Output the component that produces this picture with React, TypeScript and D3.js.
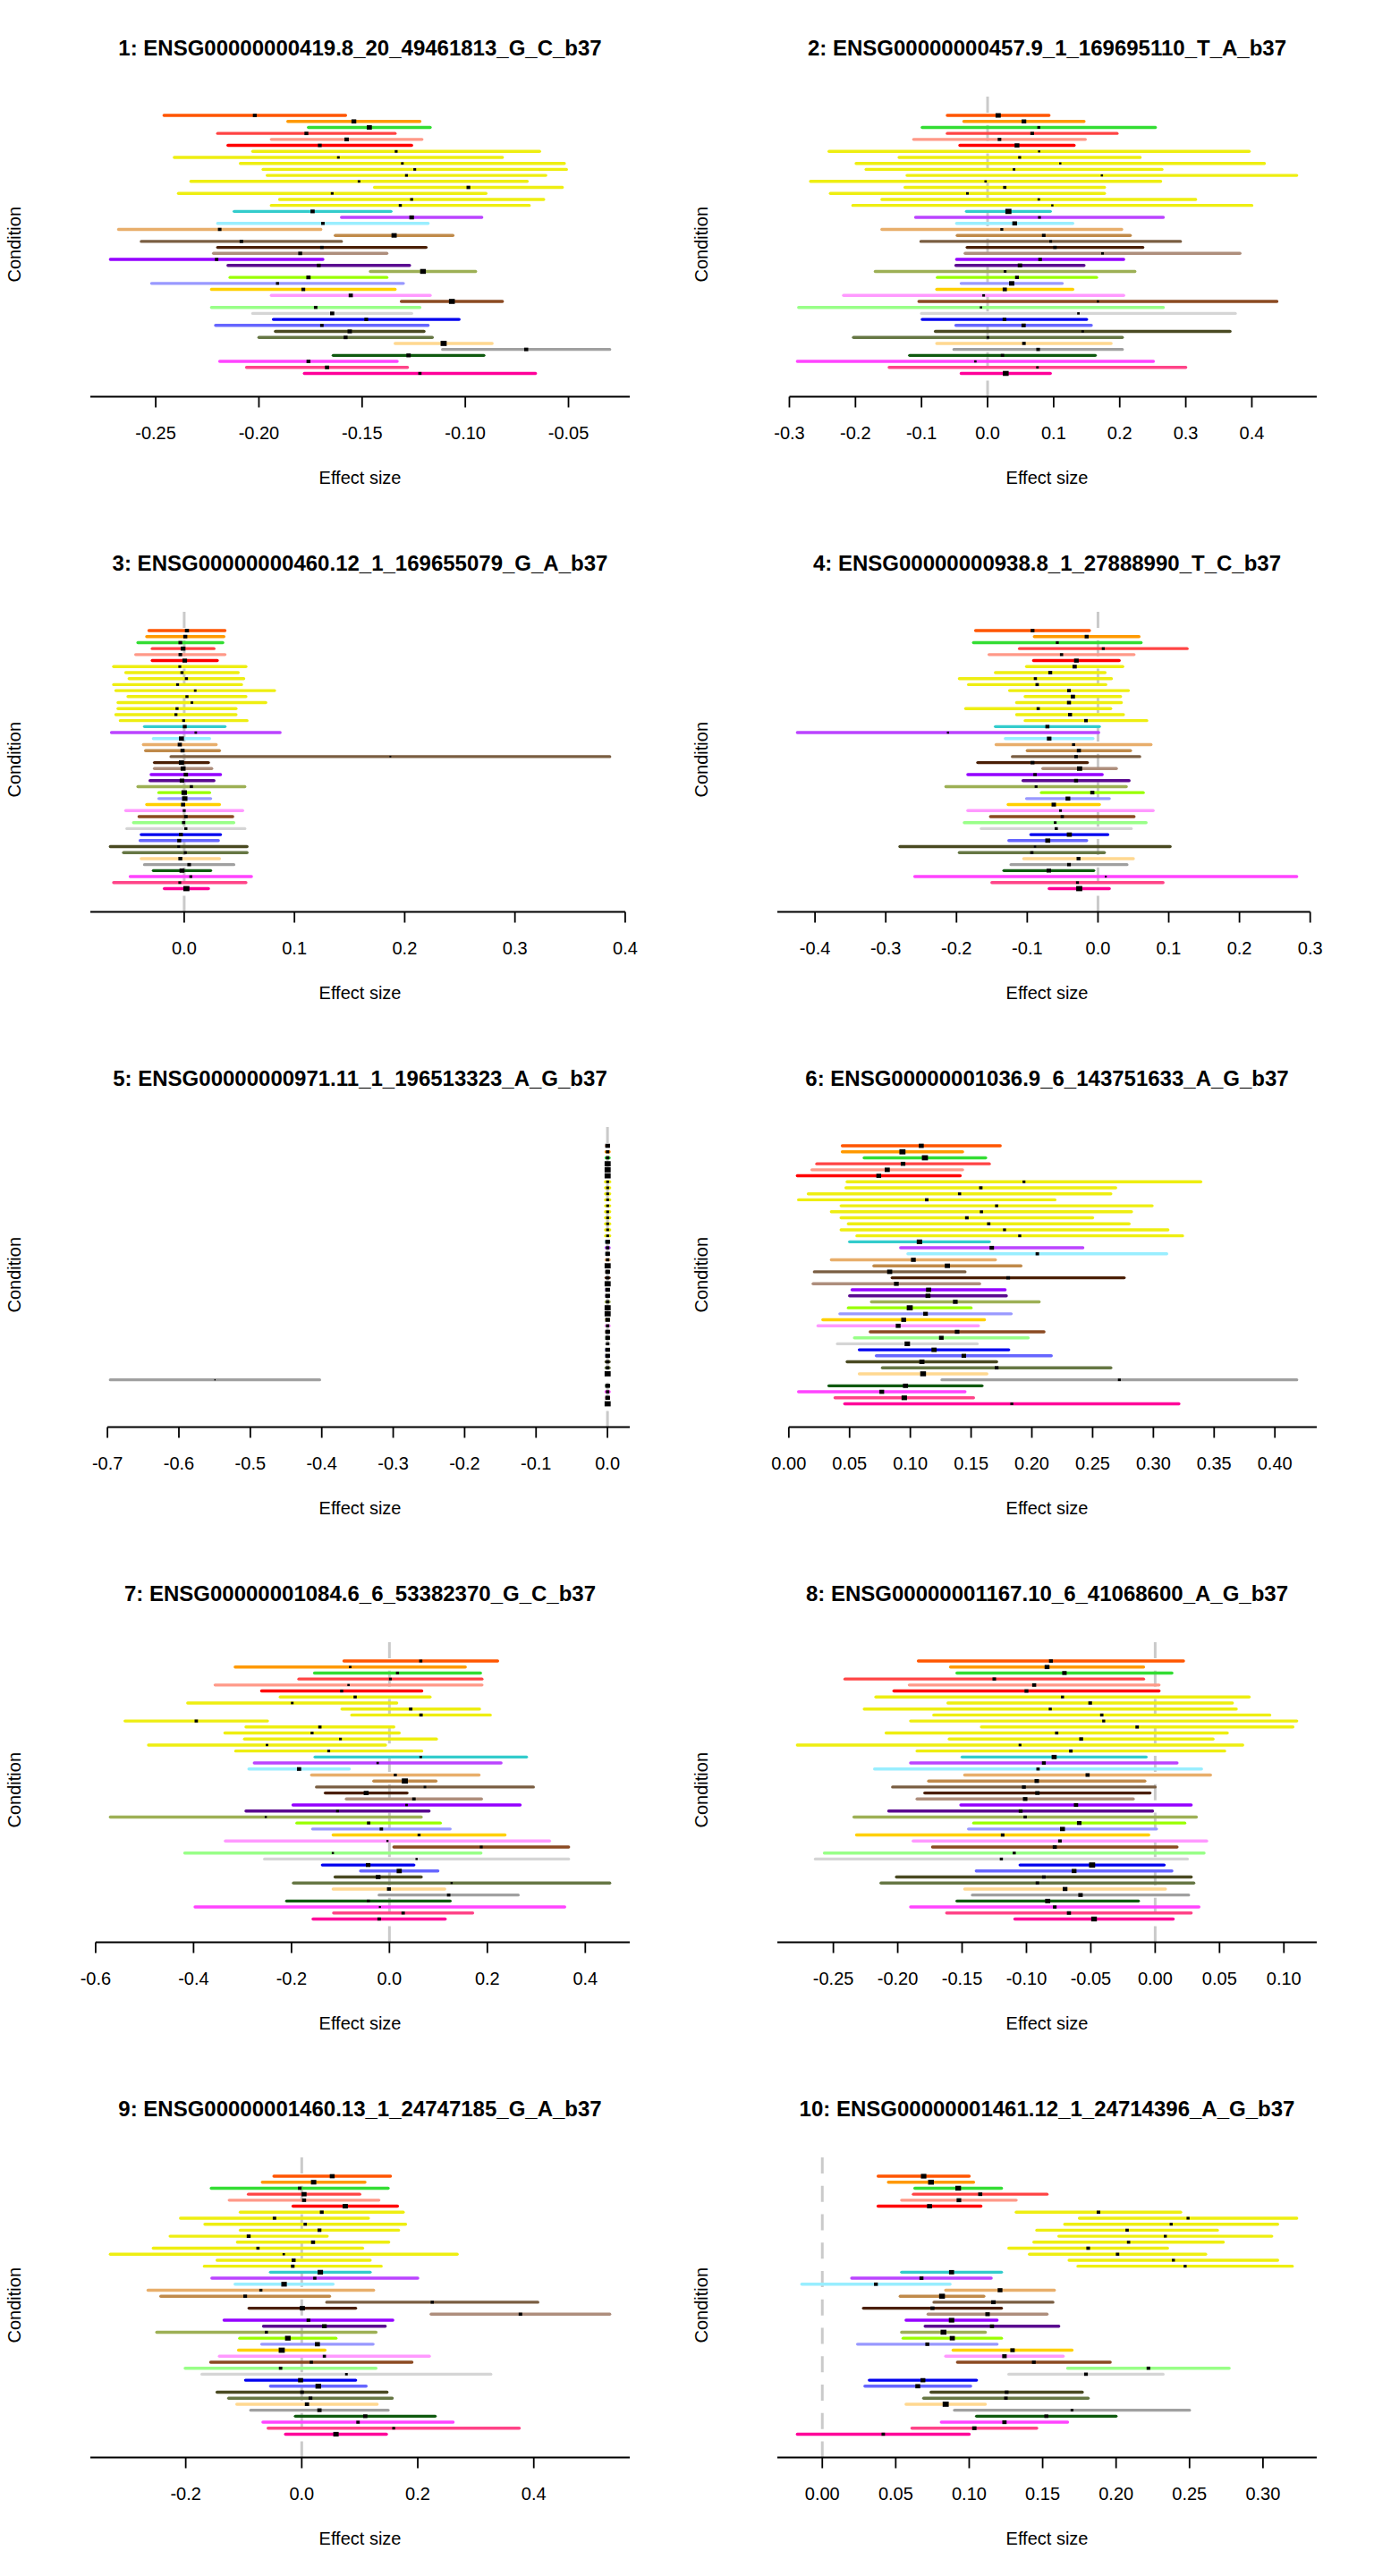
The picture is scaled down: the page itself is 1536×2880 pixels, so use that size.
import * as d3 from "d3";

// 44 GTEx tissues, one row each, in plotting order
const TISSUE_COLORS = [
  "#FF5500", "#FF9900", "#33DD33", "#FF4444", "#FF9988", "#FF0000",
  "#EEEE11", "#EEEE11", "#EEEE11", "#EEEE11", "#EEEE11",
  "#EEEE11", "#EEEE11", "#EEEE11", "#EEEE11", "#EEEE11",
  "#33CCCC", "#BB44FF", "#99EEFF", "#E8AE6B", "#C08A4A", "#7A5E42",
  "#4A1F05", "#AE8E7C", "#9400FF", "#5A0A90", "#9DB055", "#99FF00",
  "#9999FF", "#FFD000", "#FF99FF", "#8B4A22", "#99FF88", "#D5D5D5",
  "#0000EE", "#6666FF", "#4A4A22", "#667744", "#FFD890", "#A0A0A0",
  "#0F5A0F", "#FF44FF", "#FF4488", "#FF0099",
];

const TITLES = [
  "1: ENSG00000000419.8_20_49461813_G_C_b37",
  "2: ENSG00000000457.9_1_169695110_T_A_b37",
  "3: ENSG00000000460.12_1_169655079_G_A_b37",
  "4: ENSG00000000938.8_1_27888990_T_C_b37",
  "5: ENSG00000000971.11_1_196513323_A_G_b37",
  "6: ENSG00000001036.9_6_143751633_A_G_b37",
  "7: ENSG00000001084.6_6_53382370_G_C_b37",
  "8: ENSG00000001167.10_6_41068600_A_G_b37",
  "9: ENSG00000001460.13_1_24747185_G_A_b37",
  "10: ENSG00000001461.12_1_24714396_A_G_b37",
];

const TICK_STEPS = [0.05, 0.1, 0.1, 0.1, 0.1, 0.05, 0.2, 0.05, 0.2, 0.05];

// lower / upper 95% interval per condition
const P1_LO = [-0.246,-0.186,-0.176,-0.220,-0.194,-0.215,-0.203,-0.241,-0.209,-0.198,-0.196,-0.233,-0.144,-0.239,-0.190,-0.194,-0.212,-0.160,-0.220,-0.268,-0.163,-0.257,-0.220,-0.222,-0.272,-0.215,-0.146,-0.214,-0.252,-0.223,-0.194,-0.131,-0.223,-0.203,-0.193,-0.221,-0.192,-0.200,-0.134,-0.111,-0.164,-0.219,-0.206,-0.178];
const P1_HI = [-0.158,-0.122,-0.117,-0.134,-0.121,-0.126,-0.064,-0.082,-0.052,-0.051,-0.061,-0.070,-0.053,-0.090,-0.062,-0.069,-0.136,-0.092,-0.118,-0.170,-0.106,-0.160,-0.119,-0.138,-0.169,-0.127,-0.095,-0.138,-0.130,-0.134,-0.117,-0.082,-0.122,-0.126,-0.103,-0.118,-0.120,-0.116,-0.087,-0.030,-0.091,-0.133,-0.128,-0.066];

const P2_LO = [-0.061,-0.036,-0.099,-0.061,-0.112,-0.042,-0.240,-0.134,-0.199,-0.184,-0.122,-0.268,-0.125,-0.238,-0.160,-0.204,-0.032,-0.109,-0.047,-0.160,-0.046,-0.101,-0.031,-0.034,-0.047,-0.048,-0.170,-0.076,-0.040,-0.077,-0.218,-0.104,-0.286,-0.100,-0.099,-0.048,-0.079,-0.203,-0.077,-0.051,-0.118,-0.288,-0.149,-0.040];
const P2_HI = [0.093,0.146,0.254,0.196,0.148,0.131,0.396,0.231,0.419,0.264,0.468,0.262,0.177,0.177,0.315,0.400,0.095,0.266,0.129,0.203,0.216,0.292,0.235,0.382,0.206,0.146,0.223,0.165,0.113,0.129,0.206,0.438,0.266,0.375,0.150,0.157,0.367,0.204,0.187,0.204,0.163,0.251,0.300,0.095];

const P3_LO = [-0.032,-0.034,-0.042,-0.029,-0.044,-0.029,-0.064,-0.053,-0.050,-0.064,-0.062,-0.051,-0.060,-0.060,-0.062,-0.058,-0.036,-0.066,-0.028,-0.037,-0.035,-0.012,-0.027,-0.027,-0.030,-0.031,-0.042,-0.023,-0.023,-0.034,-0.053,-0.041,-0.046,-0.052,-0.039,-0.040,-0.067,-0.055,-0.039,-0.036,-0.028,-0.049,-0.064,-0.018];
const P3_HI = [0.037,0.036,0.035,0.027,0.037,0.030,0.056,0.049,0.054,0.052,0.082,0.056,0.074,0.047,0.047,0.057,0.037,0.087,0.023,0.029,0.032,0.386,0.022,0.025,0.033,0.027,0.055,0.023,0.024,0.032,0.053,0.044,0.045,0.055,0.033,0.031,0.057,0.057,0.032,0.045,0.024,0.061,0.056,0.022];

const P4_LO = [-0.173,-0.090,-0.176,-0.111,-0.154,-0.091,-0.101,-0.145,-0.196,-0.183,-0.125,-0.103,-0.115,-0.187,-0.115,-0.103,-0.145,-0.425,-0.131,-0.144,-0.100,-0.121,-0.170,-0.078,-0.184,-0.106,-0.215,-0.080,-0.101,-0.127,-0.184,-0.152,-0.189,-0.165,-0.095,-0.126,-0.280,-0.196,-0.105,-0.123,-0.133,-0.259,-0.150,-0.069];
const P4_HI = [-0.012,0.058,0.061,0.126,0.051,0.030,0.035,0.010,0.019,0.011,0.043,0.032,0.033,0.018,0.036,0.069,0.002,0.001,-0.007,0.075,0.046,0.059,-0.015,0.026,0.006,0.044,0.040,0.064,0.016,0.002,0.078,0.051,0.068,0.047,0.014,-0.016,0.102,0.009,0.050,0.041,-0.006,0.281,0.092,0.016];

const P5_LO = [-0.0012,-0.0020,-0.0020,-0.0008,-0.0008,-0.0008,-0.0028,-0.0028,-0.0028,-0.0028,-0.0028,-0.0028,-0.0028,-0.0028,-0.0028,-0.0028,-0.0012,-0.0020,-0.0012,-0.0020,-0.0008,-0.0012,-0.0020,-0.0008,-0.0012,-0.0012,-0.0020,-0.0008,-0.0008,-0.0012,-0.0020,-0.0012,-0.0012,-0.0020,-0.0012,-0.0012,-0.0020,-0.0020,-0.0008,-0.696,-0.0012,-0.0020,-0.0012,-0.0008];
const P5_HI = [0.0016,0.0024,0.0024,0.0012,0.0012,0.0012,0.0032,0.0032,0.0032,0.0032,0.0032,0.0032,0.0032,0.0032,0.0032,0.0032,0.0016,0.0024,0.0016,0.0024,0.0012,0.0016,0.0024,0.0012,0.0016,0.0016,0.0024,0.0012,0.0012,0.0016,0.0024,0.0016,0.0016,0.0024,0.0016,0.0016,0.0024,0.0024,0.0012,-0.403,0.0016,0.0024,0.0016,0.0012];

const P6_LO = [0.044,0.044,0.062,0.023,0.019,0.007,0.048,0.047,0.016,0.008,0.043,0.035,0.043,0.049,0.043,0.056,0.050,0.092,0.098,0.035,0.070,0.021,0.085,0.020,0.052,0.050,0.068,0.049,0.042,0.028,0.024,0.067,0.054,0.040,0.058,0.072,0.048,0.077,0.058,0.126,0.033,0.008,0.038,0.046];
const P6_HI = [0.174,0.143,0.162,0.165,0.143,0.141,0.339,0.269,0.265,0.219,0.299,0.282,0.250,0.280,0.312,0.324,0.165,0.242,0.311,0.170,0.191,0.145,0.276,0.157,0.178,0.179,0.206,0.150,0.183,0.161,0.156,0.210,0.197,0.155,0.181,0.216,0.171,0.265,0.163,0.418,0.159,0.145,0.152,0.321];

const P7_LO = [-0.093,-0.315,-0.153,-0.185,-0.356,-0.261,-0.223,-0.412,-0.097,-0.077,-0.540,-0.293,-0.336,-0.296,-0.492,-0.314,-0.152,-0.276,-0.287,-0.159,-0.032,-0.149,-0.131,-0.088,-0.197,-0.293,-0.570,-0.189,-0.157,-0.115,-0.335,0.009,-0.418,-0.255,-0.137,-0.059,-0.111,-0.196,-0.115,-0.021,-0.210,-0.397,-0.114,-0.156];
const P7_HI = [0.221,0.155,0.186,0.189,0.189,0.066,0.083,0.015,0.184,0.206,-0.249,0.009,0.020,0.096,-0.008,0.066,0.280,0.228,-0.082,0.183,0.095,0.294,0.036,0.188,0.267,0.081,0.065,0.104,0.124,0.236,0.327,0.366,0.187,0.366,0.050,0.099,0.065,0.450,0.113,0.263,0.124,0.358,0.170,0.114];

const P8_LO = [-0.184,-0.159,-0.154,-0.241,-0.191,-0.203,-0.217,-0.161,-0.226,-0.172,-0.190,-0.135,-0.209,-0.160,-0.278,-0.185,-0.150,-0.190,-0.218,-0.148,-0.176,-0.204,-0.179,-0.185,-0.151,-0.207,-0.234,-0.141,-0.145,-0.232,-0.188,-0.173,-0.257,-0.264,-0.105,-0.139,-0.201,-0.213,-0.148,-0.142,-0.154,-0.190,-0.162,-0.109];
const P8_HI = [0.022,-0.009,0.013,-0.009,0.003,0.003,0.073,0.060,0.063,0.089,0.110,0.107,0.056,0.045,0.068,0.054,-0.007,0.017,0.036,0.043,-0.008,0.000,-0.004,-0.017,0.028,-0.002,0.032,0.023,0.001,-0.005,0.040,0.017,0.038,0.025,0.007,0.013,0.028,0.030,0.008,0.026,-0.013,0.034,0.028,0.014];

const P9_LO = [-0.048,-0.068,-0.156,-0.092,-0.125,-0.015,-0.106,-0.209,-0.167,-0.106,-0.227,-0.111,-0.256,-0.330,-0.146,-0.168,-0.054,-0.155,-0.115,-0.265,-0.243,0.043,-0.091,0.223,-0.134,-0.066,-0.250,-0.107,-0.069,-0.109,-0.142,-0.157,-0.201,-0.172,-0.097,-0.054,-0.146,-0.126,-0.112,-0.088,-0.011,-0.067,-0.058,-0.028];
const P9_HI = [0.153,0.109,0.149,0.100,0.133,0.165,0.175,0.115,0.179,0.167,0.044,0.150,0.105,0.268,0.118,0.137,0.118,0.200,0.054,0.124,0.048,0.407,0.093,0.531,0.157,0.144,0.128,0.059,0.123,0.040,0.220,0.190,0.128,0.326,0.093,0.111,0.147,0.156,0.130,0.149,0.230,0.261,0.375,0.146];

const P10_LO = [0.038,0.045,0.063,0.062,0.054,0.038,0.132,0.175,0.165,0.146,0.161,0.144,0.127,0.141,0.168,0.174,0.054,0.020,-0.014,0.084,0.053,0.076,0.028,0.072,0.057,0.070,0.054,0.055,0.024,0.089,0.084,0.092,0.167,0.127,0.032,0.029,0.074,0.069,0.057,0.090,0.105,0.081,0.061,-0.017];
const P10_HI = [0.100,0.103,0.122,0.153,0.132,0.108,0.244,0.323,0.310,0.269,0.306,0.273,0.235,0.261,0.310,0.320,0.122,0.115,0.087,0.158,0.110,0.157,0.122,0.153,0.119,0.161,0.111,0.122,0.119,0.170,0.164,0.196,0.277,0.232,0.105,0.101,0.177,0.181,0.111,0.250,0.200,0.167,0.146,0.100];

const LOWER = [P1_LO, P2_LO, P3_LO, P4_LO, P5_LO, P6_LO, P7_LO, P8_LO, P9_LO, P10_LO];
const UPPER = [P1_HI, P2_HI, P3_HI, P4_HI, P5_HI, P6_HI, P7_HI, P8_HI, P9_HI, P10_HI];

const PANEL_W = 768;
const PANEL_H = 576;
// plot region inside each panel (R style, fixed margins)
const PLOT = { left: 101, right: 704, top: 103, bottom: 443.5 };
const FONT = "'Liberation Sans', Arial, Helvetica, sans-serif";

function fmt(v: number, step: number) {
  const dec = step < 0.1 ? 2 : 1;
  const r = Math.abs(v) < 1e-9 ? 0 : v;
  return r.toFixed(dec);
}

function Panel({ idx }: { idx: number }) {
  const lo = LOWER[idx];
  const hi = UPPER[idx];
  const n = lo.length;
  const step = TICK_STEPS[idx];

  const dataMin = d3.min(lo) as number;
  const dataMax = d3.max(hi) as number;
  const pad = 0.04 * (dataMax - dataMin);
  const x = d3
    .scaleLinear()
    .domain([dataMin - pad, dataMax + pad])
    .range([PLOT.left, PLOT.right]);

  // rows sit at y = -1 .. -n, plot spans 1 .. -(n+2), plus 4% like R
  const yPad = 0.04 * (n + 3);
  const y = d3
    .scaleLinear()
    .domain([1 + yPad, -(n + 2) - yPad])
    .range([PLOT.top, PLOT.bottom]);

  // axis: pretty range, clipped to the plot region
  const tLo = Math.floor(dataMin / step + 1e-9) * step;
  const tHi = Math.ceil(dataMax / step - 1e-9) * step;
  const [d0, d1] = x.domain();
  const ticks = d3
    .range(Math.round(tLo / step), Math.round(tHi / step) + 1)
    .map((k) => k * step)
    .filter((v) => v >= d0 - 1e-9 && v <= d1 + 1e-9);
  const axisX1 = Math.max(PLOT.left, x(tLo));
  const axisX2 = Math.min(PLOT.right, x(tHi));

  const widths = lo.map((l, i) => hi[i] - l);
  const minW = d3.min(widths) as number;

  const showZero = 0 > dataMin && 0 >= d0 && 0 <= d1;
  const cx = (PLOT.left + PLOT.right) / 2;
  const cy = (PLOT.top + PLOT.bottom) / 2;

  return (
    <g>
      <text
        x={cx}
        y={62}
        textAnchor="middle"
        fontSize={24}
        fontWeight="bold"
      >
        {TITLES[idx]}
      </text>

      {showZero && (
        <line
          x1={x(0)}
          x2={x(0)}
          y1={PLOT.bottom}
          y2={PLOT.top}
          stroke="#CACACA"
          strokeWidth={3}
          strokeDasharray="18 13.75"
        />
      )}

      {lo.map((l, i) => (
        <line
          key={"ci" + i}
          x1={x(l)}
          x2={x(hi[i])}
          y1={y(-(i + 1))}
          y2={y(-(i + 1))}
          stroke={TISSUE_COLORS[i]}
          strokeWidth={3.4}
          strokeLinecap="round"
        />
      ))}

      {lo.map((l, i) => {
        const r = minW / widths[i];
        const bw = 5.4 * r + 1.4;
        const bh = 4.4 * r + 1.4;
        const m = (l + hi[i]) / 2;
        return (
          <rect
            key={"bx" + i}
            x={x(m) - bw / 2}
            y={y(-(i + 1)) - bh / 2}
            width={bw}
            height={bh}
            fill="#000"
          />
        );
      })}

      <line
        x1={axisX1}
        x2={axisX2}
        y1={PLOT.bottom}
        y2={PLOT.bottom}
        stroke="#000"
        strokeWidth={1.8}
      />
      {ticks.map((t) => (
        <g key={"t" + t}>
          <line
            x1={x(t)}
            x2={x(t)}
            y1={PLOT.bottom}
            y2={PLOT.bottom + 12}
            stroke="#000"
            strokeWidth={1.8}
          />
          <text x={x(t)} y={491} textAnchor="middle" fontSize={20}>
            {fmt(t, step)}
          </text>
        </g>
      ))}

      <text x={cx} y={541} textAnchor="middle" fontSize={20}>
        Effect size
      </text>
      <text
        transform={`translate(22.5,${cy}) rotate(-90)`}
        textAnchor="middle"
        fontSize={20}
      >
        Condition
      </text>
    </g>
  );
}

export default function App() {
  const panels = d3.range(TITLES.length);
  return (
    <div style={{ position: "absolute", left: 0, top: 0, background: "#fff" }}>
      <svg
        width={PANEL_W * 2}
        height={PANEL_H * 5}
        fontFamily={FONT}
        style={{ display: "block" }}
      >
        <rect width={PANEL_W * 2} height={PANEL_H * 5} fill="#fff" />
        {panels.map((p) => (
          <g
            key={p}
            transform={`translate(${(p % 2) * PANEL_W},${Math.floor(p / 2) * PANEL_H})`}
          >
            <Panel idx={p} />
          </g>
        ))}
      </svg>
    </div>
  );
}
